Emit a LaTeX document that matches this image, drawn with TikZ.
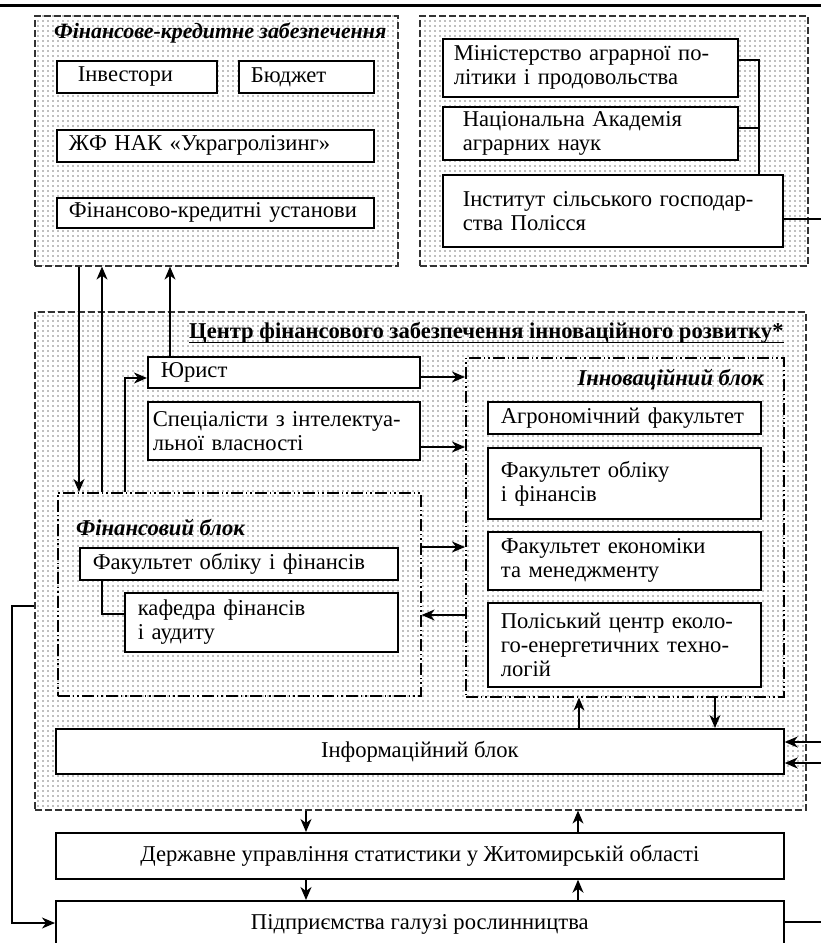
\documentclass[tikz,border=0pt]{standalone}
\usepackage{fontspec}
\setmainfont{Liberation Serif}
\usetikzlibrary{arrows.meta,patterns.meta}
\pgfdeclarepattern{name=mydots, type=uncolored,
  bottom left={\pgfpoint{0pt}{0pt}}, top right={\pgfpoint{4.5pt}{4.5pt}},
  tile size={\pgfpoint{4.5pt}{4.5pt}},
  code={\pgfpathcircle{\pgfpoint{2.25pt}{2.25pt}}{0.95pt}\pgfusepath{fill}}}
\newcommand\fs{\fontsize{22.6}{24}\selectfont}
\begin{document}
\begin{tikzpicture}[x=1pt,y=-1pt,font=\fs,
  bx/.style={draw,line width=1.7pt,fill=white,anchor=north west,inner ysep=0pt,align=left},
  cbx/.style={draw,line width=1.7pt,fill=white,anchor=north west,inner sep=0pt,align=center},
  cont/.style={draw=black!80,dash pattern=on 7pt off 3pt,line width=1.6pt,pattern=mydots,pattern color=black!50,anchor=north west,inner sep=0pt},
  blk/.style={draw,dash pattern=on 12pt off 3pt on 1.5pt off 3pt on 1.5pt off 3pt,line width=1.6pt,anchor=north west,inner sep=0pt},
  ttl/.style={font=\fs\bfseries\itshape,inner sep=0pt},
  con/.style={line width=1.5pt},
  arr/.style={con,-{Stealth[length=13pt,width=11pt,inset=4pt]}}]
\useasboundingbox (0,0) rectangle (821,943);
\clip (0,0) rectangle (821,943);
\draw[line width=3pt] (0,5) -- (821,5);
% containers
\node[cont,minimum width=363,minimum height=250] (fin) at (34,15) {};
\node[cont,minimum width=388,minimum height=250] (gov) at (419,15) {};
\node[cont,minimum width=771,minimum height=498] (ctr) at (34,311) {};
\node[blk,minimum width=363,minimum height=203] (fb) at (57,492) {};
\node[blk,minimum width=318,minimum height=339] (inno) at (465,357) {};
% titles
\node[ttl,font=\fontsize{21.9}{24}\selectfont\bfseries\itshape,anchor=west] (tfin) at (54,33) {Фінансове-кредитне забезпечення};
\node[ttl,anchor=east] (tinno) at (764,380) {Інноваційний блок};
\node[ttl,anchor=west] (tfb) at (76,527) {Фінансовий блок};
\node[font=\fs\bfseries,anchor=base west,inner sep=0pt] (tctr) at (189,338) {Центр фінансового забезпечення інноваційного розвитку*};
\draw[line width=1.6pt] ([yshift=-4.5pt]tctr.base west) -- ([yshift=-4.5pt]tctr.base east);
% top-left boxes
\node[bx,minimum width=160,minimum height=32,inner xsep=21pt,text width=118pt] (inv) at (56,60) {Інвестори};
\node[bx,minimum width=135,minimum height=32,inner xsep=12pt,text width=111pt] (bud) at (238,60) {Бюджет};
\node[bx,minimum width=317,minimum height=32,inner xsep=12pt,text width=293pt] (zhf) at (56,129) {ЖФ НАК «Украгролізинг»};
\node[bx,minimum width=317,minimum height=30,inner xsep=12pt,text width=293pt] (fku) at (56,197) {Фінансово-кредитні установи};
% top-right boxes
\node[bx,minimum width=295,minimum height=58,inner xsep=11pt,text width=273pt] (min) at (442,38) {Міністерство аграрної по-\\літики і продовольства};
\node[bx,minimum width=295,minimum height=53,inner xsep=20pt,text width=255pt] (nan) at (442,106) {Національна Академія\\аграрних наук};
\node[bx,minimum width=340,minimum height=72,inner xsep=20pt,text width=300pt] (isg) at (442,174) {Інститут сільського господар-\\ства Полісся};
% centre
\node[bx,minimum width=272,minimum height=31,inner xsep=13pt,text width=246pt] (yur) at (147,356) {Юрист};
\node[bx,minimum width=272,minimum height=58,inner xsep=5pt,text width=262pt] (spec) at (147,401) {Спеціалісти з інтелектуа-\\льної власності};
\node[bx,minimum width=273,minimum height=32,inner xsep=13pt,text width=247pt] (agro) at (487,401) {Агрономічний факультет};
\node[bx,minimum width=273,minimum height=71,inner xsep=13pt,text width=247pt] (foif) at (487,447) {Факультет обліку\\і фінансів};
\node[bx,minimum width=273,minimum height=58,inner xsep=13pt,text width=247pt] (fem) at (487,531) {Факультет економіки\\та менеджменту};
\node[bx,minimum width=273,minimum height=84,inner xsep=13pt,text width=247pt] (pol) at (487,602) {Поліський центр еколо-\\го-енергетичних техно-\\логій};
\node[bx,minimum width=318,minimum height=32,inner xsep=13pt,text width=292pt] (ff) at (79,547) {Факультет обліку і фінансів};
\node[bx,minimum width=273,minimum height=59,inner xsep=13pt,text width=247pt] (kaf) at (124,592) {кафедра фінансів\\і аудиту};
% bottom
\node[cbx,minimum width=728,minimum height=45] (inf) at (55,728) {Інформаційний блок};
\node[cbx,minimum width=728,minimum height=46] (der) at (55,832) {Державне управління статистики у Житомирській області};
\node[cbx,minimum width=728,minimum height=48] (pid) at (55,900) {Підприємства галузі рослинництва};
% free ends
\coordinate (r1) at (821,219);
\coordinate (r2) at (821,742);
\coordinate (r3) at (821,763);
\coordinate (r4) at (821,922);
\coordinate (l1) at (12,923);
% connectors
\draw[con] (min.east |- 0,60) -| (isg.north -| 759,0);
\draw[con] (nan.east |- 0,128) -- (759,128);
\draw[con] (isg.east |- r1) -- (r1);
\draw[arr] (fin.south -| 79,0) -- (fb.north -| 79,0);
\draw[arr] (fb.north -| 102,0) -- (fin.south -| 102,0);
\draw[arr] (yur.north -| 170,0) -- (fin.south -| 170,0);
\draw[arr] (fb.north -| 125,0) |- (yur.west |- 0,378);
\draw[arr] (yur.east |- 0,377) -- (inno.west |- 0,377);
\draw[arr] (spec.east |- 0,447) -- (inno.west |- 0,447);
\draw[arr] (fb.east |- 0,547) -- (inno.west |- 0,547);
\draw[arr] (inno.west |- 0,615) -- (fb.east |- 0,615);
\draw[con] (ff.south -| 102,0) |- (kaf.west |- 0,614);
\draw[arr] (inf.north -| 579,0) -- (inno.south -| 579,0);
\draw[arr] (inno.south -| 715,0) -- (inf.north -| 715,0);
\draw[arr] (ctr.south -| 306,0) -- (der.north -| 306,0);
\draw[arr] (der.north -| 578,0) -- (ctr.south -| 578,0);
\draw[arr] (der.south -| 306,0) -- (pid.north -| 306,0);
\draw[arr] (pid.north -| 578,0) -- (der.south -| 578,0);
\draw[arr] (ctr.west |- 0,606) -| (l1) -- (pid.west |- l1);
\draw[arr] (r2) -- (inf.east |- r2);
\draw[arr] (r3) -- (inf.east |- r3);
\draw[con] (pid.east |- r4) -- (r4);
\end{tikzpicture}
\end{document}
